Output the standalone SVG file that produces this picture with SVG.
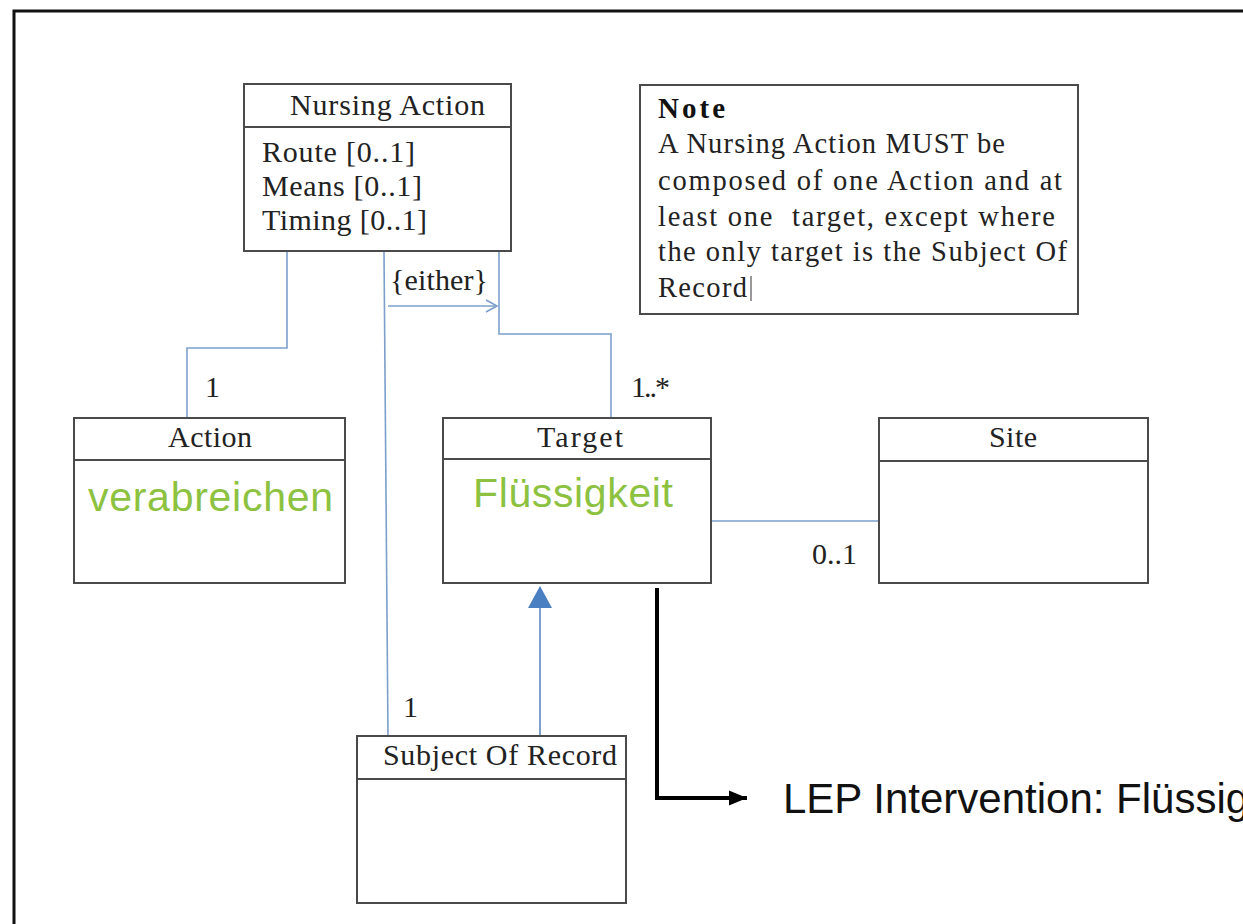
<svg xmlns="http://www.w3.org/2000/svg" width="1243" height="924" viewBox="0 0 1243 924">
<style>
.box{fill:#fff;stroke:#4a4a4a;stroke-width:2}
.sep{stroke:#4a4a4a;stroke-width:2}
.t{font-family:"Liberation Serif","Times New Roman",serif;font-size:30px;fill:#222}
.n{font-family:"Liberation Serif","Times New Roman",serif;font-size:28.5px;fill:#222}
.tb{font-family:"Liberation Serif","Times New Roman",serif;font-size:29px;font-weight:bold;fill:#111}
.g{font-family:"Liberation Sans",Arial,sans-serif;font-size:41px;fill:#8cc23f}
.lep{font-family:"Liberation Sans",Arial,sans-serif;font-size:42px;fill:#111}
.c{fill:none;stroke:#7c9fcb;stroke-width:1.6}
</style>
<defs>
<marker id="open" markerWidth="14" markerHeight="14" refX="12" refY="7" orient="auto" markerUnits="userSpaceOnUse">
<path d="M1,1 L12,7 L1,13" fill="none" stroke="#7c9fcb" stroke-width="1.6"/>
</marker>
<marker id="blk" markerWidth="20" markerHeight="18" refX="18" refY="9" orient="auto" markerUnits="userSpaceOnUse">
<path d="M0,1.5 L18,9 L0,16.5 Z" fill="#000"/>
</marker>
</defs>
<rect x="0" y="0" width="1243" height="924" fill="#fff"/>
<path d="M14,930 V11 H1250" fill="none" stroke="#111" stroke-width="3"/>

<g id="connectors">
<path class="c" d="M287,252 V348 H187 V418"/>
<path class="c" d="M499,252 V334 H611 V418"/>
<path class="c" d="M384,252 L388,736"/>
<path class="c" d="M388,306 H497" marker-end="url(#open)"/>
<path class="c" d="M711,521 H879"/>
<path d="M540,736 V604" fill="none" stroke="#6f97c9" stroke-width="1.8"/>
<path d="M540,586 L552,608 L528,608 Z" fill="#4a7fc1"/>
<path d="M657,588 V798 H747" fill="none" stroke="#000" stroke-width="4" marker-end="url(#blk)"/>
<text class="t" x="390" y="290" textLength="98">{either}</text>
<text class="t" x="205" y="397">1</text>
<text class="t" x="631" y="397" textLength="39">1..*</text>
<text class="t" x="812" y="564" textLength="45">0..1</text>
<text class="t" x="403" y="717">1</text>
</g>

<g id="nursing-action">
<rect class="box" x="244" y="84" width="267" height="167"/>
<line class="sep" x1="244" y1="127" x2="511" y2="127"/>
<text class="t" x="290" y="115" textLength="195">Nursing Action</text>
<text class="t" x="262" y="162" textLength="153">Route [0..1]</text>
<text class="t" x="262" y="196" textLength="160">Means [0..1]</text>
<text class="t" x="262" y="230" textLength="165">Timing [0..1]</text>
</g>

<g id="note">
<rect class="box" x="640" y="85" width="438" height="229" stroke-width="1.6"/>
<text class="tb" x="658" y="118" textLength="67">Note</text>
<text class="n" x="658" y="153" textLength="347">A Nursing Action MUST be</text>
<text class="n" x="658" y="190" textLength="404">composed of one Action and at</text>
<text class="n" x="658" y="226" textLength="397" xml:space="preserve">least one  target, except where</text>
<text class="n" x="658" y="261" textLength="409">the only target is the Subject Of</text>
<text class="n" x="658" y="297" textLength="89">Record</text>
<line x1="751" y1="276" x2="751" y2="301" stroke="#333" stroke-width="1"/>
</g>

<g id="action">
<rect class="box" x="74" y="418" width="271" height="165"/>
<line class="sep" x1="74" y1="460" x2="345" y2="460"/>
<text class="t" x="168" y="447" textLength="84">Action</text>
<text class="g" x="88" y="511" textLength="245">verabreichen</text>
</g>

<g id="target">
<rect class="box" x="443" y="418" width="268" height="165"/>
<line class="sep" x1="443" y1="459" x2="711" y2="459"/>
<text class="t" x="537" y="447" textLength="86">Target</text>
<text class="g" x="473" y="507" textLength="200">Flüssigkeit</text>
</g>

<g id="site">
<rect class="box" x="879" y="418" width="269" height="165"/>
<line class="sep" x1="879" y1="461" x2="1148" y2="461"/>
<text class="t" x="989" y="447" textLength="48">Site</text>
</g>

<g id="subject-of-record">
<rect class="box" x="357" y="736" width="269" height="167"/>
<line class="sep" x1="357" y1="779" x2="626" y2="779"/>
<text class="t" x="383" y="765" textLength="234">Subject Of Record</text>
</g>

<g id="lep">
<text class="lep" x="783" y="813">LEP Intervention: Flüssig</text>
</g>
</svg>
